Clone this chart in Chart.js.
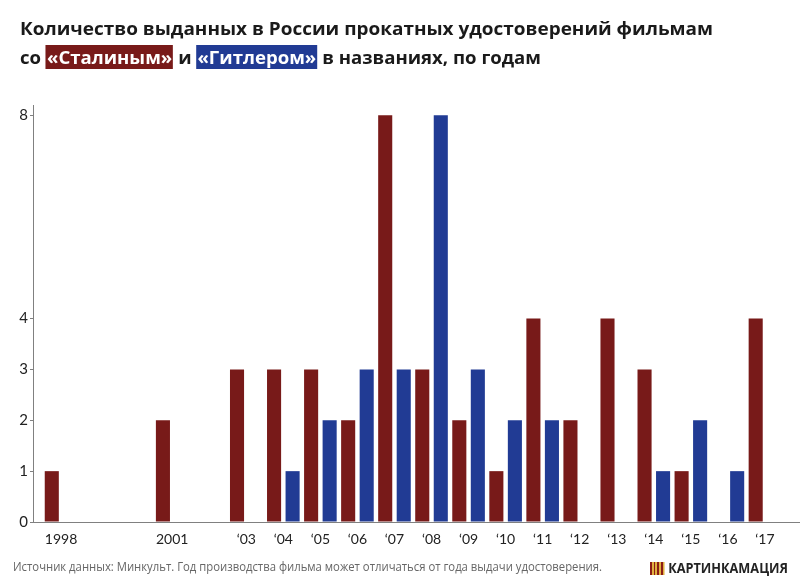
<!DOCTYPE html>
<html>
<head>
<meta charset="utf-8">
<script src="https://cdn.jsdelivr.net/npm/chart.js@4"></script>
<style>
  body { margin: 0; background: #fff; }
  #wrap { position: relative; width: 800px; height: 586px; overflow: hidden; }
  #chart { position: absolute; left: 0; top: 0; }
  .fit { position: absolute; white-space: nowrap; transform-origin: 0 0; }
  #title1, #title2 {
    left: 20px;
    font: bold 17.5px 'Open Sans', sans-serif; color: #1a1a1a; line-height: 22px;
  }
  #title1 { top: 17px; }
  #title2 { top: 46px; }
  #title2 span { color: #fff; padding: 0 1px; }
  .stalin { background: #781a19; }
  .hitler { background: #213b94; }
  #source {
    left: 13px; top: 558px;
    font: 12px 'Open Sans', sans-serif; color: #666;
  }
  #logo {
    left: 650px; top: 558px;
    font: bold 14px 'Open Sans', sans-serif; color: #222;
  }
  #logo i {
    display: inline-block; width: 16px; height: 13px; vertical-align: -2px; margin-right: 4px;
    background: repeating-linear-gradient(90deg, #8b1c16 0 2px, #e0b040 2px 4px);
  }
</style>
</head>
<body>
<div id="wrap">
  <canvas id="chart" width="800" height="586"></canvas>
  <div id="title1" class="fit" data-w="693">Количество выданных в России прокатных удостоверений фильмам</div>
  <div id="title2" class="fit" data-w="521">со <span class="stalin">«Сталиным»</span> и <span class="hitler">«Гитлером»</span> в названиях, по годам</div>
  <div id="source" class="fit" data-w="589">Источник данных: Минкульт. Год производства фильма может отличаться от года выдачи удостоверения.</div>
  <div id="logo" class="fit" data-w="138"><i></i>КАРТИНКАМАЦИЯ</div>
</div>
<script>
// Years and how the x axis labels them
const years = [1998, 1999, 2000, 2001, 2002, 2003, 2004, 2005, 2006, 2007,
               2008, 2009, 2010, 2011, 2012, 2013, 2014, 2015, 2016, 2017];
const yearLabels = ['1998', '', '', '2001', '', '‘03', '‘04', '‘05', '‘06', '‘07',
                    '‘08', '‘09', '‘10', '‘11', '‘12', '‘13', '‘14', '‘15', '‘16', '‘17'];

// Number of certificates per year
const stalinCounts = [1, 0, 0, 2, 0, 3, 3, 3, 2, 8, 3, 2, 1, 4, 2, 4, 3, 1, 0, 4];
const hitlerCounts = [0, 0, 0, 0, 0, 0, 1, 2, 3, 3, 8, 3, 2, 2, 0, 0, 1, 2, 1, 0];

const yTicks = [0, 1, 2, 3, 4, 8];

// squeeze text blocks horizontally to the widths of the original
document.querySelectorAll('.fit').forEach(el => {
    const w = el.getBoundingClientRect().width;
    el.style.transform = 'scaleX(' + (el.dataset.w / w) + ')';
});

const ctx = document.getElementById('chart').getContext('2d');

new Chart(ctx, {
    type: 'bar',
    data: {
        labels: years,
        datasets: [
            { label: 'Сталин', data: stalinCounts, backgroundColor: '#781a19' },
            { label: 'Гитлер', data: hitlerCounts, backgroundColor: '#213b94' }
        ]
    },
    options: {
        responsive: false,
        animation: false,
        categoryPercentage: 1,
        barPercentage: 0.76,
        borderWidth: 0,
        inflateAmount: 0,
        layout: { padding: { top: 105, left: 0, right: 0, bottom: 0 } },
        plugins: {
            legend: { display: false },
            tooltip: { enabled: false }
        },
        scales: {
            x: {
                type: 'linear',
                offset: false,
                min: 1997.243,
                max: 2017.946,
                afterBuildTicks: function (scale) {
                    scale.ticks = years.map(v => ({ value: v }));
                },
                afterFit: function (scale) {
                    scale.height = 64;
                },
                grid: { drawOnChartArea: false, drawTicks: false },
                border: { display: true, color: '#808080', width: 1 },
                ticks: {
                    padding: 9,
                    maxRotation: 0,
                    autoSkip: false,
                    color: '#222',
                    font: { family: 'Lato', size: 14 },
                    callback: function (value) {
                        return yearLabels[years.indexOf(value)];
                    }
                }
            },
            y: {
                min: 0,
                max: 8.2,
                afterBuildTicks: function (scale) {
                    scale.ticks = yTicks.map(v => ({ value: v }));
                },
                afterFit: function (scale) {
                    scale.width = 33;
                },
                grid: { drawOnChartArea: false, drawTicks: true, tickLength: 3, color: '#808080' },
                border: { display: true, color: '#808080', width: 1 },
                ticks: {
                    padding: 2,
                    color: '#222',
                    font: { family: 'Lato', size: 15 }
                }
            }
        }
    }
});
</script>
</body>
</html>
